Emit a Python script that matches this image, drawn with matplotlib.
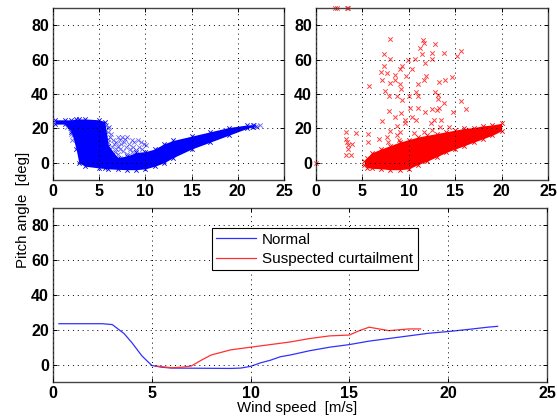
import matplotlib
matplotlib.use("Agg")
import matplotlib.pyplot as plt

plt.rcParams["font.family"] = ["Liberation Sans", "DejaVu Sans"]
plt.rcParams["font.weight"] = "bold"

# dense part of the scatter clouds, read as envelopes
blue_band_x = [0.2, 1.3, 2.0, 2.5, 2.8, 3.5, 5.0, 5.6, 6.0, 7.0, 8.0, 9.0, 10.0, 11.0, 12.0, 13.0, 15.0, 17.0, 19.0, 21.0, 21.6]
blue_band_lo = [22.5, 22.5, 18, 8, 0, -2, -3, -3.3, -3.5, -3.8, -4, -4, -3.5, -2, 0, 3, 8, 12, 16, 20, 21]
blue_band_hi = [25, 25, 25, 25.5, 25.5, 25.5, 25, 24, 10, 3, 4, 6, 6.5, 8, 11, 13, 15.5, 18, 20.5, 22, 22]
blue_x = [5.7, 5.9, 6, 5.6, 6.2, 6.5, 6.3, 6.1, 7, 7.2, 7.5, 7.8, 8, 7.4, 7, 6.8, 7, 7.3, 7.6, 8, 8.3, 8.2, 8.7, 8.8, 9.2, 9.5, 9.8, 10.1, 9.3, 9, 8.5, 7.9, 6.6, 6.4, 6.8, 7.7, 9.6, 5.9, 6, 6.7, 7.2, 8.6, 21.5, 22, 22.4, 22.1, 21.8, 1.5, 1.8, 2, 2.2, 2.1]
blue_y = [22, 20, 18, 17, 15, 13, 17, 21, 15, 13, 15, 14, 15, 11, 10, 8, 5, 3, 7, 5, 8, 11, 9, 12, 13, 12, 11, 10.5, 9, 7.5, 6.5, 9, 11, 9, 12, 12, 8, 14, 12, 6, 8, 13.5, 21, 21.5, 22, 21, 21.8, 21, 20, 17, 16, 13.5]

red_band_x = [5.2, 5.5, 6, 7, 8, 9, 10, 11, 12, 13, 14, 15, 16, 17, 18, 19, 20]
red_band_lo = [-1, -2.8, -3.2, -3.5, -4, -4, -3.5, -1, 1, 3.5, 6, 8, 10, 12, 14, 16, 18.6]
red_band_hi = [1, 3, 5.8, 8, 10, 12, 13.5, 15, 16, 17, 18, 19, 20, 20.5, 21.5, 22, 23]
red_x = [8.0, 11.5, 12.8, 11.6, 11.2, 15.6, 7.3, 11.4, 12.5, 13.8, 15.2, 12.5, 8, 9.9, 10.7, 11.7, 7.3, 9.3, 9, 10.3, 7, 7.7, 8.5, 9.7, 14.7, 11.8, 11.6, 7.1, 8.5, 8, 9, 11, 13.3, 13.9, 5.7, 9.2, 7.4, 10.8, 12.8, 7.9, 8.7, 10, 11, 13.2, 9.3, 13.1, 13.8, 15.6, 16.2, 7.9, 10.1, 11, 12.5, 13.3, 13, 14.8, 11.7, 9.2, 8.5, 10.3, 10.8, 9.6, 7.1, 12.7, 13.5, 9.6, 8.7, 12.4, 13.4, 14.3, 12.5, 10.6, 11.6, 3.2, 4.3, 5.6, 5.6, 6.8, 3.2, 3.3, 3.5, 3.9, 3.5, 3.2, 3.8, 0, 2.1, 2.3, 3.3, 3.4, 7.6, 8, 8.7, 7.8, 8.9, 9.1]
red_y = [71.7, 71.3, 69, 69.4, 67, 65, 63.5, 63.5, 64, 64, 62, 60.5, 60.6, 60, 60.6, 57.8, 56.4, 56.4, 54.5, 54.3, 53, 52.3, 51, 50.4, 49.6, 50.4, 48, 48, 48, 46.5, 46, 46, 47, 48, 44.4, 43, 41.9, 41, 41, 38.6, 38.6, 39, 38.8, 39.3, 36.8, 37, 35, 35.8, 31.2, 30, 31.6, 31.6, 31.4, 32, 30.6, 29.3, 29.6, 29, 26.4, 26.7, 24.8, 25, 24.2, 25, 24.8, 22.9, 21.3, 22.9, 20.7, 21, 19, 17.6, 18, 17.8, 17.6, 16.9, 12.2, 13.8, 14.1, 12.2, 10.3, 10.7, 8, 4.5, 4.7, 0, 90, 90, 90, 90, 15, 18.6, 16, 12.2, 13.2, 18]

normal_x = [0.3, 2.5, 3, 3.6, 4, 4.5, 5, 5.5, 6, 9, 9.5, 10, 10.5, 11, 11.5, 12, 13, 14, 15, 16, 17, 18, 19, 20, 21, 22, 22.5]
normal_y = [23.5, 23.5, 23, 17.8, 12.5, 5, -0.5, -1.5, -2, -2.2, -2, -1, 1, 2.5, 4.5, 5.5, 8, 10, 11.5, 13.5, 15, 16.5, 18, 19, 20.2, 21.5, 22]
curtailed_x = [5.2, 5.5, 6, 6.5, 7, 7.5, 8, 9, 10, 11, 12, 13, 14, 15, 15.5, 16, 16.5, 17, 18, 18.6]
curtailed_y = [-0.8, -1.2, -1.8, -1.5, -0.8, 2.5, 5.5, 8.5, 10, 11.5, 13, 15, 16.5, 17, 19.5, 21.5, 20.5, 19.5, 20.5, 20.5]

x_ticks = [0, 5, 10, 15, 20, 25]
y_ticks = [0, 20, 40, 60, 80]
W, H = 557, 417


def style_axes(ax):
    ax.set_xlim(0, 25)
    ax.set_ylim(-10, 90)
    ax.set_xticks(x_ticks)
    ax.set_yticks(y_ticks)
    ax.tick_params(direction="in", top=True, right=True, length=3, width=0.7, pad=3, labelsize=11.5)
    ax.grid(True, color="black", linestyle=(0, (1, 4)), linewidth=0.7)
    ax.set_axisbelow(False)
    for sp in ax.spines.values():
        sp.set_color("#444444")
        sp.set_linewidth(1.0)


def make_axes(fig, left, right, top, bottom):
    return fig.add_axes([left / W, 1 - bottom / H, (right - left) / W, (bottom - top) / H])


fig = plt.figure(figsize=(W / 100, H / 100), dpi=100)

# -------- top left, normal --------
ax1 = make_axes(fig, 53, 284, 8, 180)
ax1.fill_between(blue_band_x, blue_band_lo, blue_band_hi, color="#0000ff", linewidth=0)
ax1.scatter(blue_x, blue_y, marker="x", s=10, color="#0000ff", linewidths=0.6, alpha=0.6)
ax1.scatter(blue_band_x, blue_band_lo, marker="x", s=10, color="#0000ff", linewidths=0.6)
ax1.scatter(blue_band_x, blue_band_hi, marker="x", s=10, color="#0000ff", linewidths=0.6)
style_axes(ax1)

# -------- top right, curtailed --------
ax2 = make_axes(fig, 316, 548, 8, 180)
ax2.fill_between(red_band_x, red_band_lo, red_band_hi, color="#ff0000", linewidth=0)
ax2.scatter(red_x, red_y, marker="x", s=10, color="#ff0000", linewidths=0.7, alpha=0.75, clip_on=False)
ax2.scatter(red_band_x, red_band_lo, marker="x", s=10, color="#ff0000", linewidths=0.6)
ax2.scatter(red_band_x, red_band_hi, marker="x", s=10, color="#ff0000", linewidths=0.6)
style_axes(ax2)

# -------- bottom, binned curves --------
ax3 = make_axes(fig, 53, 547, 208, 382)
ax3.plot(normal_x, normal_y, color="#3030ff", linewidth=0.9, label="Normal")
ax3.plot(curtailed_x, curtailed_y, color="#ff3030", linewidth=0.9, label="Suspected curtailment")
style_axes(ax3)
leg = ax3.legend(loc="center", bbox_to_anchor=(0.530, 0.763), fancybox=False,
                 framealpha=1, edgecolor="black", borderpad=0.3, labelspacing=0.35,
                 handlelength=2.6, handletextpad=0.4, borderaxespad=0,
                 prop={"size": 11, "weight": "normal"})
leg.get_frame().set_linewidth(0.8)

fig.text(297 / W, 1 - 408 / H, "Wind speed  [m/s]", fontsize=10.8, fontweight="normal", ha="center", va="center")
fig.text(23 / W, 1 - 210 / H, "Pitch angle  [deg]", rotation=90, fontsize=10.8, fontweight="normal", ha="center", va="center")

fig.savefig("out.png", dpi=100)
